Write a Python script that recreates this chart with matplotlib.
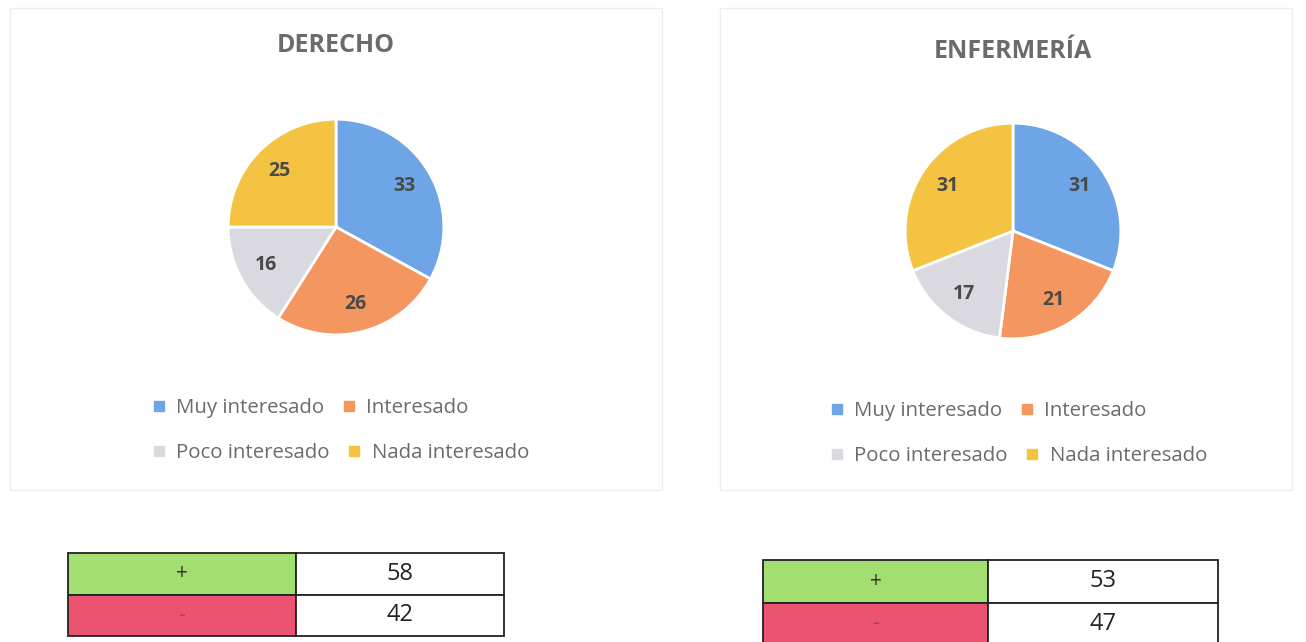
import matplotlib.pyplot as plt
from matplotlib.patches import Rectangle
from matplotlib.lines import Line2D

# data
categories = ['Muy interesado', 'Interesado', 'Poco interesado', 'Nada interesado']
derecho_vals = [33, 26, 16, 25]
enfermeria_vals = [31, 21, 17, 31]
titles = ['DERECHO', 'ENFERMERÍA']
table_signs = ['+', '-']
derecho_table = [58, 42]
enfermeria_table = [53, 47]

colors = ['#6EA5E6', '#F4965F', '#D9D9DF', '#F5C342']
green = '#A2DE70'
red = '#EB5470'

plt.rcParams['font.family'] = ['Open Sans', 'DejaVu Sans']

W, H = 1306, 642
fig = plt.figure(figsize=(W / 100, H / 100), dpi=100)
fig.patch.set_facecolor('white')


def px_axes(x0, y0, x1, y1):
    # pixel box (top-left origin) -> figure axes
    return fig.add_axes([x0 / W, 1 - y1 / H, (x1 - x0) / W, (y1 - y0) / H])


def draw_panel(box, title, title_y, vals, pie_c, r, leg_x, leg_y):
    x0, y0, x1, y1 = box
    fig.patches.append(Rectangle((x0 / W, 1 - y1 / H), (x1 - x0) / W, (y1 - y0) / H,
                                 transform=fig.transFigure, facecolor='none',
                                 edgecolor='#EEEEEE', lw=1, zorder=-1))
    fig.text(pie_c[0] / W, 1 - title_y / H, title, ha='center', va='center',
             fontsize=18, fontweight='bold', color='#6B6B6B')
    cx, cy = pie_c
    ax = px_axes(cx - r, cy - r, cx + r, cy + r)
    wedges, _, autotexts = ax.pie(vals, colors=colors, startangle=90, counterclock=False,
                                  autopct=lambda p: '%d' % round(p * sum(vals) / 100.0),
                                  pctdistance=0.74,
                                  wedgeprops=dict(edgecolor='white', linewidth=2))
    for t in autotexts:
        t.set_fontsize(14)
        t.set_fontweight('bold')
        t.set_color('#4A4A4A')
    ax.set_xlim(-1.02, 1.02)
    ax.set_ylim(-1.02, 1.02)
    ax.set_aspect('equal')
    ax.axis('off')

    handles = [Line2D([], [], marker='s', ls='none', markersize=7,
                      markerfacecolor=c, markeredgecolor=c) for c in colors]
    for row in range(2):
        hs = handles[row * 2:row * 2 + 2]
        ls = categories[row * 2:row * 2 + 2]
        fig.legend(hs, ls, loc='center left', ncol=2, frameon=False,
                   bbox_to_anchor=(leg_x / W, 1 - (leg_y + row * 45) / H),
                   fontsize=14.7, labelcolor='#6B6B6B', handlelength=0.5,
                   handletextpad=0.6, columnspacing=0.95, borderaxespad=0, borderpad=0)


def draw_table(box, split, vals):
    x0, y0, x1, y1 = box
    ax = px_axes(x0, y0, x1, y1)
    ax.axis('off')
    frac = (split - x0) / (x1 - x0)
    cells = [[s, str(v)] for s, v in zip(table_signs, vals)]
    tb = ax.table(cellText=cells, cellColours=[[green, 'white'], [red, 'white']],
                  cellLoc='center', bbox=[0, 0, 1, 1])
    tb.auto_set_font_size(False)
    for (i, j), cell in tb.get_celld().items():
        cell.set_width(frac if j == 0 else 1 - frac)
        cell.set_edgecolor('#222222')
        cell.set_linewidth(1.3)
        t = cell.get_text()
        if j == 0:
            t.set_fontsize(15)
            t.set_color('#333333' if i == 0 else '#9A4A55')
        else:
            t.set_fontsize(17)
            t.set_color('#222222')


draw_panel((10, 8, 662, 490), titles[0], 46, derecho_vals, (336, 227), 110, 154, 408)
draw_panel((720, 8, 1292, 490), titles[1], 52, enfermeria_vals, (1013, 231), 110, 832, 411)

draw_table((68, 553, 504, 636), 296, derecho_table)
draw_table((763, 560, 1218, 645), 988, enfermeria_table)

fig.savefig('out.png', dpi=100, facecolor='white')
